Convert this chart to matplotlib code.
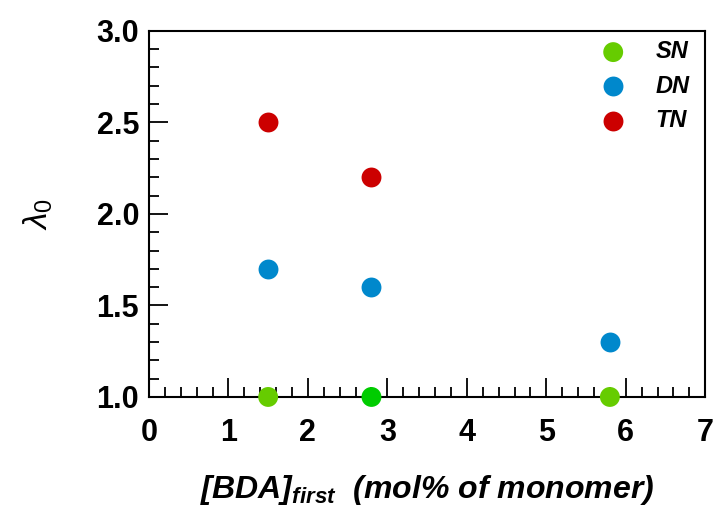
import matplotlib
matplotlib.use("Agg")
import matplotlib.pyplot as plt
from matplotlib.ticker import MultipleLocator, FormatStrFormatter

plt.rcParams['font.family'] = ['Liberation Sans', 'DejaVu Sans']
plt.rcParams['mathtext.fontset'] = 'custom'
plt.rcParams['mathtext.it'] = 'Liberation Sans:italic'
plt.rcParams['mathtext.rm'] = 'Liberation Sans'
plt.rcParams['mathtext.bf'] = 'Liberation Sans:bold'
plt.rcParams['mathtext.bfit'] = 'Liberation Sans:italic:bold'

sn_x = [1.5, 2.8, 5.8]
sn_y = [1.0, 1.0, 1.0]
sn_colors = ['#66cc00', '#00cc00', '#66cc00']
dn_x = [1.5, 2.8, 5.8]
dn_y = [1.7, 1.6, 1.3]
tn_x = [1.5, 2.8]
tn_y = [2.5, 2.2]

fig = plt.figure(figsize=(7.16, 5.23), dpi=100)
ax = fig.add_axes([0.208, 0.241, 0.777, 0.700])

ms = 205
ax.scatter(sn_x, sn_y, s=ms, c=sn_colors, label='SN', clip_on=False, zorder=3, linewidths=0)
ax.scatter(dn_x, dn_y, s=ms, c='#0088cc', label='DN', clip_on=False, zorder=3, linewidths=0)
ax.scatter(tn_x, tn_y, s=ms, c='#cc0000', label='TN', clip_on=False, zorder=3, linewidths=0)

ax.set_xlim(0, 7)
ax.set_ylim(1.0, 3.0)
ax.xaxis.set_major_locator(MultipleLocator(1))
ax.xaxis.set_minor_locator(MultipleLocator(0.2))
ax.yaxis.set_major_locator(MultipleLocator(0.5))
ax.yaxis.set_minor_locator(MultipleLocator(0.1))
ax.xaxis.set_major_formatter(FormatStrFormatter('%d'))
ax.yaxis.set_major_formatter(FormatStrFormatter('%.1f'))

ax.tick_params(which='major', direction='in', length=14, width=1.3, labelsize=22)
ax.tick_params(axis='x', which='major', pad=15)
ax.tick_params(axis='y', which='major', pad=7)
ax.tick_params(which='minor', direction='in', length=7, width=1.3)
for lab in ax.get_xticklabels() + ax.get_yticklabels():
    lab.set_fontweight('bold')
for sp in ax.spines.values():
    sp.set_linewidth(1.5)

ax.set_xlabel(r'$\mathbfit{[BDA]_{first}}$  (mol% of monomer)', fontsize=23,
              fontweight='bold', fontstyle='italic', labelpad=18)
ax.set_ylabel(r'$\lambda_{\mathit{0}}$', fontsize=24, labelpad=30)

leg = ax.legend(loc='upper right', bbox_to_anchor=(0.989, 1.0), borderaxespad=0,
                frameon=False, fontsize=17, handlelength=2.0, handletextpad=0.8,
                labelspacing=0.48, scatterpoints=1)
for t in leg.get_texts():
    t.set_fontweight('bold')
    t.set_fontstyle('italic')

fig.savefig('out.png', dpi=100)
